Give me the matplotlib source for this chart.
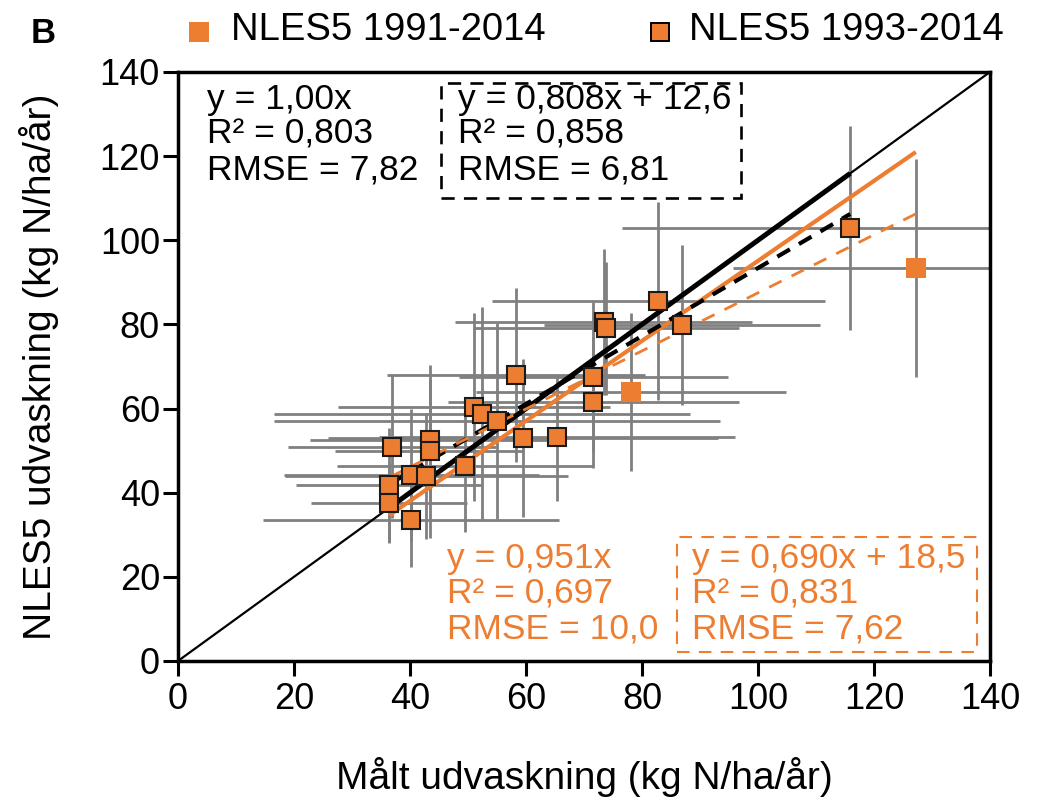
import matplotlib
matplotlib.use("Agg")
import matplotlib.pyplot as plt
from matplotlib.patches import Rectangle
from matplotlib.lines import Line2D
import numpy as np

# Stations with data 1993-2014 (measured vs. NLES5 modelled leaching)
maalt_9314 = [36.9, 36.4, 36.4, 40.2, 40.2, 42.8, 43.4, 43.4, 49.5, 51.0, 52.4,
              55.0, 58.3, 59.5, 65.3, 71.6, 71.6, 73.4, 73.8, 82.8, 86.9, 115.9]
nles5_9314 = [50.9, 41.8, 37.6, 33.5, 44.2, 44.0, 52.5, 49.8, 46.4, 60.4, 58.7,
              57.0, 68.0, 53.0, 53.2, 61.5, 67.6, 80.6, 79.1, 85.5, 79.9, 102.9]
maalt_sd_9314 = [17.9, 16.1, 13.5, 25.5, 22.0, 24.4, 20.6, 16.3, 22.1, 23.4, 35.9,
                 38.5, 22.3, 33.6, 30.7, 25.1, 23.2, 25.6, 22.9, 28.7, 23.8, 39.4]
nles5_sd_9314 = [17.0, 13.6, 9.5, 11.1, 15.6, 14.9, 14.5, 20.6, 15.7, 22.4, 25.5,
                 23.3, 20.6, 18.7, 15.1, 15.6, 17.8, 17.3, 15.8, 23.5, 19.0, 24.2]

# Extra stations only in the 1991-2014 set
maalt_9114 = [78.1, 127.2]
nles5_9114 = [64.0, 93.4]
maalt_sd_9114 = [26.7, 31.5]
nles5_sd_9114 = [18.8, 25.8]

# Regression fits: (slope, intercept)
fit_9314_origin = (1.00, 0.0)
fit_9314_free = (0.808, 12.6)
fit_9114_origin = (0.951, 0.0)
fit_9114_free = (0.690, 18.5)

stats_9314_origin = ["y = 1,00x", "R² = 0,803", "RMSE = 7,82"]
stats_9314_free = ["y = 0,808x + 12,6", "R² = 0,858", "RMSE = 6,81"]
stats_9114_origin = ["y = 0,951x", "R² = 0,697", "RMSE = 10,0"]
stats_9114_free = ["y = 0,690x + 18,5", "R² = 0,831", "RMSE = 7,62"]

legend_labels = ["NLES5 1991-2014", "NLES5 1993-2014"]
ticks = [0, 20, 40, 60, 80, 100, 120, 140]

ORANGE = "#ED7D31"
GREY = "#808080"

plt.rcParams["font.family"] = ["Liberation Sans", "DejaVu Sans"]

fig = plt.figure(figsize=(10.42, 8.05), dpi=100)
ax = fig.add_axes([0.1708, 0.1789, 0.9501 - 0.1708, 0.9106 - 0.1789])

# error bars
ax.errorbar(maalt_9314, nles5_9314, xerr=maalt_sd_9314, yerr=nles5_sd_9314,
            fmt="none", ecolor=GREY, elinewidth=2.0, capsize=0, zorder=1)
ax.errorbar(maalt_9114, nles5_9114, xerr=maalt_sd_9114, yerr=nles5_sd_9114,
            fmt="none", ecolor=GREY, elinewidth=2.0, capsize=0, zorder=1)

# 1:1 line
ax.plot([0, 140], [0, 140], color="black", lw=1.6, zorder=2)

all_x = maalt_9314 + maalt_9114
x93 = np.array([min(maalt_9314), max(maalt_9314)])
x91 = np.array([min(all_x), max(all_x)])

ax.plot(x93, fit_9314_origin[0] * x93 + fit_9314_origin[1],
        color="black", lw=3.6, zorder=3, solid_capstyle="butt")
ax.plot(x91, fit_9114_origin[0] * x91 + fit_9114_origin[1],
        color=ORANGE, lw=3.0, zorder=3, solid_capstyle="butt")
ax.plot(x93, fit_9314_free[0] * x93 + fit_9314_free[1],
        color="black", lw=3.0, ls=(0, (3.5, 2.5)), zorder=3)
ax.plot(x91, fit_9114_free[0] * x91 + fit_9114_free[1],
        color=ORANGE, lw=2.0, ls=(0, (5, 4)), zorder=3)

# markers
ax.plot(maalt_9114, nles5_9114, ls="none", marker="s", ms=14.5,
        mfc=ORANGE, mec=ORANGE, mew=0, zorder=4)
ax.plot(maalt_9314, nles5_9314, ls="none", marker="s", ms=13.5,
        mfc=ORANGE, mec="#1a1a1a", mew=1.5, zorder=5)

ax.set_xlim(0, 140)
ax.set_ylim(0, 140)
ax.set_xticks(ticks)
ax.set_yticks(ticks)
ax.tick_params(axis="x", direction="out", length=11, width=2.2,
               labelsize=26, pad=4)
ax.tick_params(axis="y", direction="out", length=11, width=2.2,
               labelsize=26, pad=2)
for sp in ax.spines.values():
    sp.set_linewidth(2.5)

ax.set_xlabel("Målt udvaskning (kg N/ha/år)", fontsize=28)
ax.set_ylabel("NLES5 udvaskning (kg N/ha/år)", fontsize=28)
ax.xaxis.set_label_coords(0.5, -0.163)
ax.yaxis.set_label_coords(-0.147, 0.5)

# fit statistics
txt_kw = dict(fontsize=25.5, va="top", ha="left", linespacing=1.08, zorder=6)
ax.text(5.0, 137.4, "\n".join(stats_9314_origin), color="black", **txt_kw)
ax.text(48.3, 137.4, "\n".join(stats_9314_free), color="black", **txt_kw)
ax.text(46.4, 28.2, "\n".join(stats_9114_origin), color=ORANGE, **txt_kw)
ax.text(88.6, 28.2, "\n".join(stats_9114_free), color=ORANGE, **txt_kw)

ax.add_patch(Rectangle((45.3, 110.1), 51.8, 27.3, fill=False, ec="black",
                       lw=1.9, ls=(0, (5, 3.5)), zorder=6))
ax.add_patch(Rectangle((86.0, 2.1), 51.8, 27.4, fill=False, ec=ORANGE,
                       lw=1.5, ls=(0, (6, 4.5)), zorder=6))

# legend row above the axes
fig.add_artist(Line2D([0.1907], [0.960], transform=fig.transFigure, ls="none",
                      marker="s", ms=14.5, mfc=ORANGE, mec=ORANGE, mew=0))
fig.add_artist(Line2D([0.6336], [0.960], transform=fig.transFigure, ls="none",
                      marker="s", ms=13.5, mfc=ORANGE, mec="black", mew=1.4))
fig.text(0.2215, 0.950, legend_labels[0], fontsize=27.5, va="baseline", ha="left")
fig.text(0.661, 0.950, legend_labels[1], fontsize=27.5, va="baseline", ha="left")

fig.text(0.029, 0.946, "B", fontsize=25, fontweight="bold", va="baseline")

fig.savefig("out.png", dpi=100)
